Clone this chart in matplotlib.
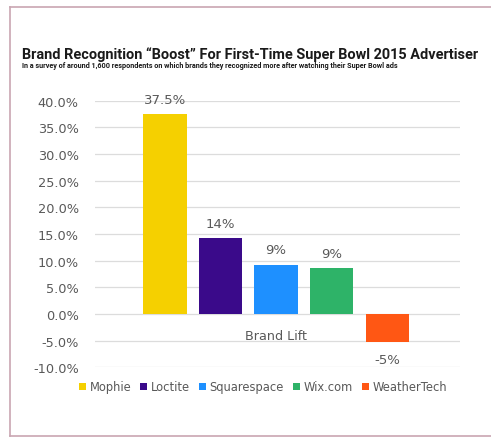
import matplotlib.pyplot as plt
from matplotlib import font_manager
from matplotlib.lines import Line2D

# data
brands = ['Mophie', 'Loctite', 'Squarespace', 'Wix.com', 'WeatherTech']
lift = [37.5, 14.2, 9.2, 8.6, -5.2]
lift_labels = ['37.5%', '14%', '9%', '9%', '-5%']
colors = ['#F5D000', '#3A0A8A', '#1E90FF', '#2EB368', '#FF5714']
yticks = [40, 35, 30, 25, 20, 15, 10, 5, 0, -5, -10]

installed = {f.name for f in font_manager.fontManager.ttflist}
narrow = 'Roboto' if 'Roboto' in installed else 'DejaVu Sans'
body = 'DejaVu Sans'
grey = '#595959'

fig = plt.figure(figsize=(4.91, 4.39), dpi=100)
ax = fig.add_axes([0.193, 0.161, 0.744, 0.607])

for i, (b, v, c) in enumerate(zip(brands, lift, colors)):
    ax.bar(i, v, width=0.78, color=c, label=b, zorder=2)
    off = 1.6 if v >= 0 else -2.2
    ax.text(i, v + off, lift_labels[i], ha='center',
            va='bottom' if v >= 0 else 'top', fontsize=9.5, color=grey, family=body)

ax.set_xlim(-1.26, 5.31)
ax.set_ylim(-10, 40)
ax.set_yticks(yticks)
ax.set_yticklabels([f'{t:.1f}%' for t in yticks], fontsize=9.3, color=grey, family=body)
ax.set_xticks([])
ax.tick_params(axis='y', length=0, pad=11.5)
ax.grid(axis='y', color='#dcdcdc', lw=0.9, zorder=0)
for s in ax.spines.values():
    s.set_visible(False)

ax.text(2, -4.0, 'Brand Lift', ha='center', va='center', fontsize=9.2, color=grey, family=body)

leg = fig.legend(loc='center', bbox_to_anchor=(263 / 491, 1 - 388 / 439), ncol=5,
                 frameon=False, handlelength=0.6, handleheight=0.6, handletextpad=0.3,
                 columnspacing=0.8, prop={'family': body, 'size': 8.3})
for t in leg.get_texts():
    t.set_color(grey)

title = fig.text(22 / 491, 1 - 55 / 439,
                 'Brand Recognition \u201cBoost\u201d For First-Time Super Bowl 2015 Advertiser',
                 ha='left', va='center', fontsize=12, fontweight='bold', family=narrow, color='#1a1a1a')
sub = fig.text(22 / 491, 1 - 66 / 439,
               'In a survey of around 1,600 respondents on which brands they recognized more after watching their Super Bowl ads',
               ha='left', va='center', fontsize=6, fontweight='bold', family=narrow, color='#1a1a1a')

# shrink the header texts to the widths seen in the reference
r = fig.canvas.get_renderer()
for t, target in [(title, 456), (sub, 380)]:
    w = t.get_window_extent(r).width
    t.set_fontsize(t.get_fontsize() * target / w)

# pinkish frame (left, top, bottom; the right side runs off the picture)
fc = '#c9a6b2'
x0, y0, y1 = 9.5 / 491, 1 - 437 / 439, 1 - 8 / 439
for xs, ys in [([x0, x0], [y0, y1]), ([x0, 1.02], [y1, y1]), ([x0, 1.02], [y0, y0])]:
    fig.add_artist(Line2D(xs, ys, transform=fig.transFigure, color=fc, lw=1.2))

fig.savefig('out.png', dpi=100)
